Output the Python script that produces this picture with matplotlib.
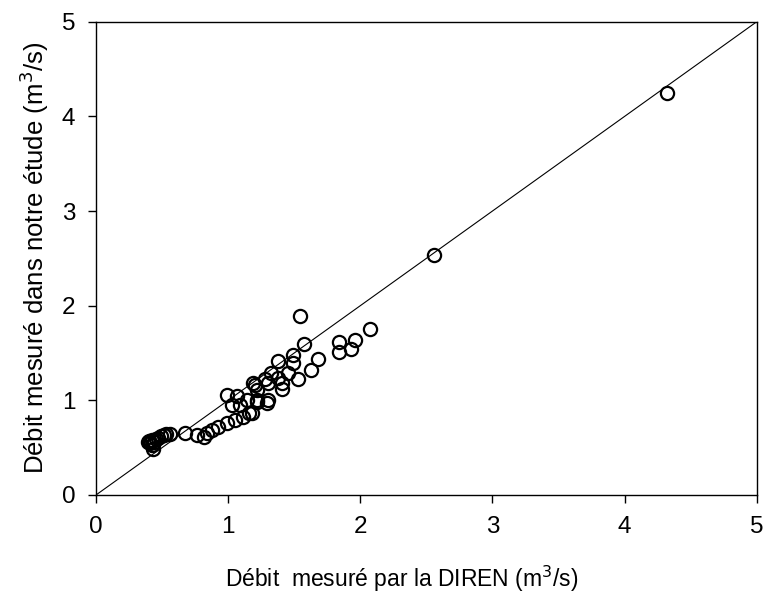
import matplotlib
matplotlib.use("Agg")
import matplotlib.pyplot as plt

plt.rcParams['font.family'] = ['Liberation Sans', 'DejaVu Sans']

# débit DIREN (x) vs débit mesuré dans notre étude (y), m3/s
debit_diren = [
    0.39, 0.40, 0.41, 0.42, 0.42, 0.43, 0.44, 0.45, 0.47, 0.49, 0.51, 0.53,
    0.56, 0.67, 0.76, 0.82, 0.84, 0.88, 0.92, 0.99, 1.05, 1.11, 1.16,
    0.99, 1.07, 1.03, 1.09, 1.14, 1.20, 1.22, 1.29, 1.18,
    1.19, 1.22, 1.30, 1.22, 1.28, 1.32, 1.38, 1.41, 1.30, 1.41, 1.45, 1.38,
    1.49, 1.49, 1.53, 1.57, 1.54, 1.63, 1.68, 1.84, 1.84, 1.93, 1.96, 2.07,
    2.56, 4.32,
]
debit_etude = [
    0.56, 0.57, 0.55, 0.58, 0.53, 0.49, 0.56, 0.59, 0.60, 0.62, 0.63, 0.64,
    0.64, 0.65, 0.63, 0.61, 0.65, 0.69, 0.72, 0.76, 0.79, 0.82, 0.87,
    1.06, 1.04, 0.95, 0.95, 1.00, 1.16, 0.98, 0.97, 0.87,
    1.18, 1.11, 1.00, 1.00, 1.23, 1.29, 1.24, 1.12, 1.18, 1.18, 1.29, 1.41,
    1.48, 1.39, 1.22, 1.59, 1.89, 1.32, 1.44, 1.62, 1.51, 1.54, 1.64, 1.75,
    2.54, 4.25,
]

fig = plt.figure(figsize=(7.69, 6.05), dpi=100)
ax = fig.add_axes([0.125, 0.182, 0.859, 0.782])

ax.plot([0, 5], [0, 5], color='black', lw=0.8, zorder=1)
ax.plot(debit_diren, debit_etude, 'o', mfc='none', mec='black',
        ms=9.5, mew=1.6, zorder=2)

ax.set_xlim(0, 5)
ax.set_ylim(0, 5)
ax.set_xticks(range(6))
ax.set_yticks(range(6))
ax.tick_params(direction='out', length=6, width=1, labelsize=17.5, pad=9)
for s in ax.spines.values():
    s.set_linewidth(1)

ax.set_xlabel('Débit  mesuré par la DIREN (m$^3$/s)', fontsize=16.5)
ax.set_ylabel('Débit mesuré dans notre étude (m$^3$/s)', fontsize=18.5, labelpad=8)
ax.xaxis.set_label_coords(0.462, -0.145)

fig.savefig('out.png', dpi=100)
